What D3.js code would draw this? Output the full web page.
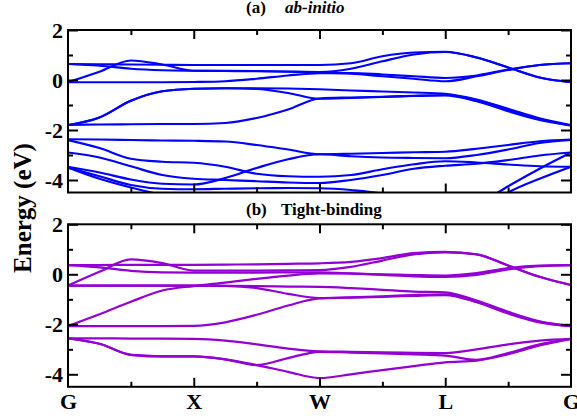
<!DOCTYPE html>
<html lang="en">
<head>
<meta charset="UTF-8">
<title>Band structure</title>
<script src="https://d3js.org/d3.v7.min.js"></script>
<style>
  body { margin: 0; background: #fff; }
  svg, svg text { font-family: "Liberation Serif", Tinos, Times, "Times New Roman", "DejaVu Serif", serif !important; font-weight: bold; }
</style>
</head>
<body>
<svg id="chart" width="577" height="419"></svg>
<script>
// k-path: labels and positions of the high-symmetry points
var kLabels = ["G", "X", "W", "L", "G"];
var kTicks = [0, 1, 2, 3, 4];
var kMinor = [0.5, 1.5, 2.5, 3.5];
// sampling points along the path (every quarter segment)
var kGrid = [0, 0.25, 0.5, 0.75, 1, 1.25, 1.5, 1.75, 2, 2.25, 2.5, 2.75, 3, 3.25, 3.5, 3.75, 4];
var energyTicks = [-4, -2, 0, 2];
var energyMinor = [-3, -1, 1];

// (a) ab-initio bands (eV)
var abU1 = [0.64, 0.63, 0.62, 0.61, 0.60, 0.60, 0.60, 0.60, 0.60, 0.67, 0.95, 1.10, 1.13, 0.90, 0.50, 0.10, -0.09];
var abU2 = [-0.09, 0.33, 0.78, 0.62, 0.37, 0.37, 0.36, 0.34, 0.32, 0.45, 0.75, 1.02, 1.12, 0.90, 0.50, 0.10, -0.09];
var abU3 = [0.64, 0.57, 0.45, 0.39, 0.37, 0.36, 0.35, 0.33, 0.30, 0.25, 0.15, 0.05, -0.05, 0.15, 0.40, 0.60, 0.67];
var abU4 = [-0.09, -0.09, -0.09, -0.09, -0.08, -0.05, 0.05, 0.18, 0.27, 0.28, 0.22, 0.15, 0.08, 0.18, 0.42, 0.60, 0.67];
var abM1 = [-1.80, -1.50, -0.83, -0.45, -0.35, -0.33, -0.33, -0.34, -0.37, -0.42, -0.46, -0.50, -0.55, -0.78, -1.15, -1.53, -1.80];
var abM2 = [-1.80, -1.78, -1.77, -1.76, -1.76, -1.72, -1.52, -1.18, -0.74, -0.70, -0.67, -0.64, -0.62, -0.85, -1.25, -1.60, -1.82];
var abM3 = [-1.80, -1.50, -0.83, -0.45, -0.35, -0.33, -0.36, -0.52, -0.75, -0.72, -0.68, -0.63, -0.60, -0.82, -1.20, -1.57, -1.82];
var abL1 = [-2.37, -2.38, -2.40, -2.42, -2.43, -2.46, -2.60, -2.78, -2.97, -2.95, -2.92, -2.89, -2.87, -2.75, -2.60, -2.45, -2.38];
var abL2 = [-2.40, -2.72, -3.15, -3.27, -3.31, -3.47, -3.75, -3.85, -3.87, -3.80, -3.57, -3.37, -3.25, -3.30, -3.38, -3.45, -3.47];
var abL3 = [-2.90, -3.10, -3.45, -3.80, -3.95, -4.00, -4.05, -4.10, -4.12, -4.00, -3.80, -3.55, -3.43, -3.35, -3.20, -3.02, -2.90];
var abL4 = [-3.47, -3.70, -3.98, -4.15, -4.18, -3.92, -3.52, -3.17, -2.97, -3.05, -3.10, -3.12, -3.13, -3.00, -2.78, -2.52, -2.40];
var abL5 = [-3.50, -3.85, -4.20, -4.35, -4.37, -4.35, -4.33, -4.32, -4.33, -4.40, -4.55, -4.90, -5.30, -5.00, -4.25, -3.55, -2.90];
var abL6 = [-3.50, -3.95, -4.30, -4.60, -4.80, -4.80, -4.80, -4.80, -4.80, -4.85, -5.00, -5.20, -5.50, -5.30, -4.50, -3.95, -3.47];

// (b) tight-binding bands (eV)
var tbT1 = [0.37, 0.37, 0.38, 0.38, 0.38, 0.39, 0.40, 0.42, 0.44, 0.50, 0.65, 0.85, 0.90, 0.80, 0.35, -0.10, -0.43];
var tbT2 = [-0.45, 0.10, 0.60, 0.45, 0.15, 0.15, 0.15, 0.16, 0.17, 0.30, 0.55, 0.80, 0.88, 0.80, 0.35, -0.10, -0.43];
var tbT3 = [0.37, 0.28, 0.14, 0.08, 0.07, 0.07, 0.07, 0.08, 0.08, 0.04, -0.02, -0.08, -0.10, -0.02, 0.20, 0.33, 0.37];
var tbN1 = [-2.07, -1.60, -1.10, -0.65, -0.47, -0.33, -0.18, -0.05, 0.04, 0.03, 0.00, -0.03, -0.05, 0.05, 0.25, 0.35, 0.37];
var tbF1 = [-0.45, -0.45, -0.45, -0.45, -0.45, -0.46, -0.47, -0.49, -0.50, -0.55, -0.62, -0.69, -0.72, -1.05, -1.50, -1.88, -2.07];
var tbF2 = [-0.45, -0.45, -0.45, -0.45, -0.45, -0.46, -0.55, -0.78, -0.95, -0.92, -0.88, -0.83, -0.80, -1.10, -1.55, -1.90, -2.07];
var tbN2 = [-2.07, -2.07, -2.07, -2.07, -2.06, -1.92, -1.62, -1.25, -0.96, -0.93, -0.90, -0.86, -0.83, -1.12, -1.57, -1.92, -2.07];
var tbB1 = [-2.56, -2.56, -2.57, -2.57, -2.58, -2.65, -2.80, -2.97, -3.08, -3.10, -3.12, -3.14, -3.15, -3.00, -2.80, -2.65, -2.58];
var tbB2 = [-2.56, -2.78, -3.22, -3.28, -3.28, -3.40, -3.63, -3.90, -4.15, -4.00, -3.83, -3.67, -3.52, -3.45, -3.20, -2.85, -2.58];
var tbB3 = [-2.56, -2.78, -3.22, -3.28, -3.28, -3.40, -3.63, -3.35, -3.10, -3.13, -3.16, -3.20, -3.25, -3.42, -3.15, -2.80, -2.58];

var abBands = [abU1, abU2, abU3, abU4, abM1, abM2, abM3, abL1, abL2, abL3, abL4, abL5, abL6];
var tbBands = [tbT1, tbT2, tbT3, tbN1, tbF1, tbF2, tbN2, tbB1, tbB2, tbB3];

var serif = "Liberation Serif, Tinos, Times, Times New Roman, DejaVu Serif, serif";
var svg = d3.select("#chart").attr("font-family", serif);
var left = 68, right = 571;
var x = d3.scaleLinear().domain([0, 4]).range([left, right]);

function drawPanel(id, top, bottom, bands, color, showLabels) {
    var y = d3.scaleLinear().domain([-4.5, 2]).range([bottom, top]);
    var g = svg.append("g");

    g.append("clipPath").attr("id", id)
        .append("rect")
        .attr("x", left).attr("y", top)
        .attr("width", right - left).attr("height", bottom - top);

    var line = d3.line()
        .x(function(d, i) { return x(kGrid[i]); })
        .y(function(d) { return y(d); })
        .curve(d3.curveMonotoneX);

    g.append("g").attr("clip-path", "url(#" + id + ")")
        .selectAll("path").data(bands).enter().append("path")
        .attr("d", line)
        .attr("fill", "none")
        .attr("stroke", color)
        .attr("stroke-width", 2.2)
        .attr("stroke-linejoin", "round");

    // inward ticks on all four sides
    function ax(axis, tr) {
        var a = g.append("g").attr("transform", tr).call(axis)
            .attr("font-family", serif).attr("font-size", 22);
        a.select(".domain").remove();
        a.selectAll("line").attr("stroke", "#000").attr("stroke-width", 2);
        return a;
    }
    ax(d3.axisLeft(y).tickValues(energyTicks).tickSizeInner(-10).tickSizeOuter(0).tickPadding(5)
        .tickFormat(function(d) { return d; }), "translate(" + left + ",0)");
    ax(d3.axisLeft(y).tickValues(energyMinor).tickSize(-5).tickFormat(""), "translate(" + left + ",0)");
    ax(d3.axisRight(y).tickValues(energyTicks).tickSize(-10).tickFormat(""), "translate(" + right + ",0)");
    ax(d3.axisRight(y).tickValues(energyMinor).tickSize(-5).tickFormat(""), "translate(" + right + ",0)");
    ax(d3.axisTop(x).tickValues([1, 2, 3]).tickSize(-9).tickFormat(""), "translate(0," + top + ")");
    ax(d3.axisTop(x).tickValues(kMinor).tickSize(-5).tickFormat(""), "translate(0," + top + ")");
    ax(d3.axisBottom(x).tickValues(kMinor).tickSize(-5).tickFormat(""), "translate(0," + bottom + ")");
    var xb = ax(d3.axisBottom(x).tickValues(kTicks).tickSize(-9).tickPadding(7)
        .tickFormat(function(d, i) { return showLabels ? kLabels[i] : ""; }), "translate(0," + bottom + ")");
    xb.selectAll(".tick").filter(function(d) { return d === 0 || d === 4; }).select("line").remove();

    g.append("rect")
        .attr("x", left).attr("y", top)
        .attr("width", right - left).attr("height", bottom - top)
        .attr("fill", "none").attr("stroke", "#000").attr("stroke-width", 2);
}

drawPanel("clipA", 30, 192.5, abBands, "#0000ff", false);
drawPanel("clipB", 224.3, 386.8, tbBands, "#9400d3", true);

// panel titles
var ta = svg.append("text").attr("x", 246).attr("y", 13).attr("font-size", 17);
ta.append("tspan").text("(a)");
ta.append("tspan").attr("x", 285).attr("font-style", "italic").text("ab-initio");

var tb = svg.append("text").attr("x", 246).attr("y", 215).attr("font-size", 17);
tb.append("tspan").text("(b)");
tb.append("tspan").attr("x", 281).text("Tight-binding");

// y axis title
svg.append("text")
    .attr("transform", "translate(31,208) rotate(-90)")
    .attr("text-anchor", "middle")
    .attr("font-size", 25)
    .text("Energy (eV)");
</script>
</body>
</html>
